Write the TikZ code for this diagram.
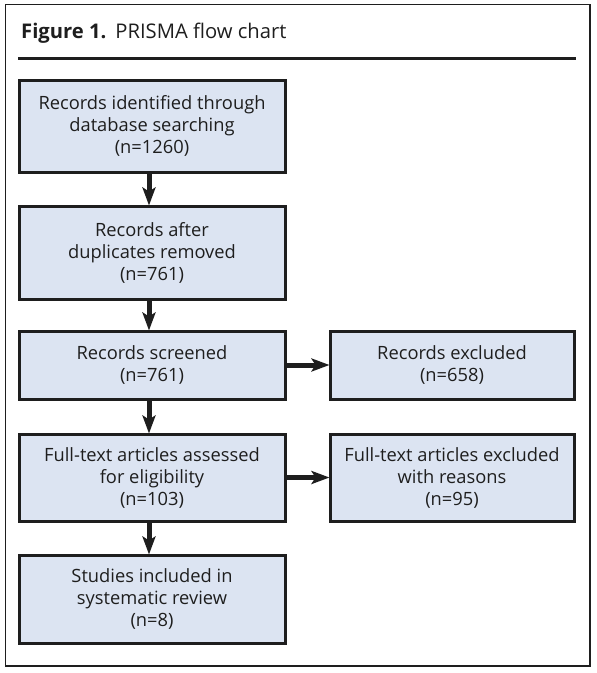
\documentclass[tikz,border=0pt]{standalone}
\usepackage{fontspec}
\setmainfont{Open Sans}
\usetikzlibrary{arrows.meta}
\definecolor{boxfill}{RGB}{220,228,242}
\definecolor{ink}{RGB}{30,30,30}
\tikzset{
  box/.style={draw=ink, line width=3pt, fill=boxfill, align=center, inner sep=0pt,
    font=\fontsize{18.3}{22}\selectfont, text=ink},
  lbox/.style={box, minimum width=266pt},
  rbox/.style={box, minimum width=244pt},
  flow/.style={line width=5pt, draw=ink, -{Stealth[length=18pt,width=13pt,inset=4pt]}, shorten >=-1pt}
}
\begin{document}
\begin{tikzpicture}[x=1pt,y=-1pt]
\useasboundingbox (0,0) rectangle (597,673);
\draw[line width=1.2pt, ink] (5.5,4.5) rectangle (590,666);
\node[anchor=base west, font=\fontsize{20.2}{24}\selectfont, text=ink, inner sep=0pt] (title) at (21,38) {\textbf{Figure 1.}\hspace{0.45em}PRISMA flow chart};
\coordinate (tl) at (18,58);
\coordinate (tr) at (576,58);
\draw[line width=3pt, ink] (tl) -- (tr);

\node[lbox, minimum height=92pt] (b1) at (152,126) {Records identified through\\database searching\\(n=1260)};
\node[lbox, minimum height=93pt] (b2) at (152,252.5) {Records after\\duplicates removed\\(n=761)};
\node[lbox, minimum height=68pt] (b3) at (152,365) {Records screened\\(n=761)};
\node[lbox, minimum height=87pt] (b4) at (152,477.5) {Full-text articles assessed\\for eligibility\\(n=103)};
\node[lbox, minimum height=88pt] (b5) at (152,599) {Studies included in\\systematic review\\(n=8)};
\node[rbox, minimum height=68pt] (r1) at (452,365) {Records excluded\\(n=658)};
\node[rbox, minimum height=87pt] (r2) at (452,477.5) {Full-text articles excluded\\with reasons\\(n=95)};

\draw[flow] ([xshift=-3pt]b1.south) -- ([xshift=-3pt]b2.north);
\draw[flow] ([xshift=-3pt]b2.south) -- ([xshift=-3pt]b3.north);
\draw[flow] ([xshift=-3pt]b3.south) -- ([xshift=-3pt]b4.north);
\draw[flow] ([xshift=-3pt]b4.south) -- ([xshift=-3pt]b5.north);
\draw[flow] (b3.east) -- (r1.west);
\draw[flow] (b4.east) -- (r2.west);
\end{tikzpicture}
\end{document}
